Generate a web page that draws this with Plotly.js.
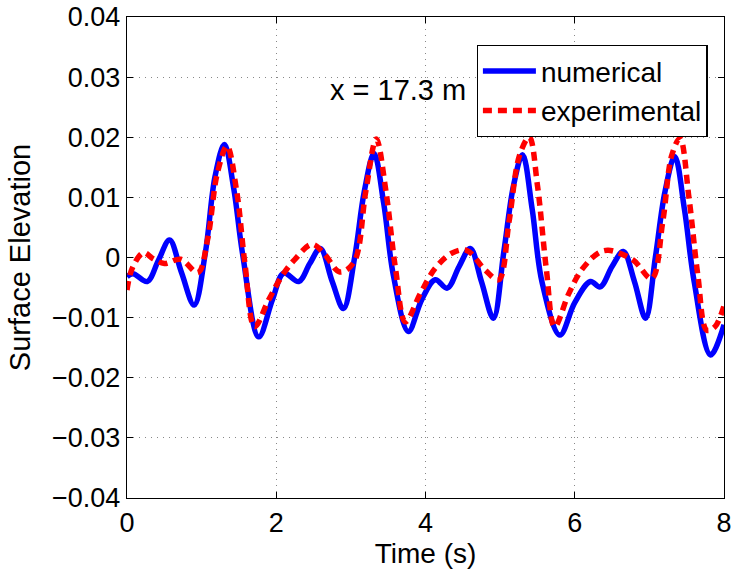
<!DOCTYPE html>
<html>
<head>
<meta charset="utf-8">
<script src="https://cdn.plot.ly/plotly-3.0.1.min.js"></script>
<style>html,body{margin:0;padding:0;background:#fff;}#chart{width:735px;height:574px;}</style>
</head>
<body>
<div id="chart"></div>
<script>
// Numerical (blue) series
const numT = [0.00,0.08,0.27,0.42,0.57,0.73,0.90,1.05,1.18,1.305,1.43,1.55,1.765,1.95,2.10,2.30,2.45,2.59,2.75,2.90,3.05,3.18,3.31,3.44,3.57,3.77,3.95,4.13,4.29,4.45,4.60,4.75,4.91,5.05,5.18,5.30,5.43,5.56,5.80,6.00,6.21,6.34,6.50,6.65,6.80,6.95,7.08,7.21,7.34,7.47,7.60,7.82,8.00];
const numV = [-0.0032,-0.0027,-0.0040,-0.0005,0.0029,-0.0025,-0.0079,0.0008,0.0135,0.0188,0.0115,0.0005,-0.0132,-0.0070,-0.0026,-0.0040,-0.0010,0.0015,-0.0040,-0.0085,0.0000,0.0110,0.0173,0.0090,-0.0030,-0.0123,-0.0070,-0.0037,-0.0051,-0.0015,0.0015,-0.0040,-0.0101,0.0010,0.0120,0.0171,0.0080,-0.0040,-0.0129,-0.0075,-0.0040,-0.0049,-0.0015,0.0010,-0.0040,-0.0101,0.0000,0.0110,0.0168,0.0080,-0.0040,-0.0162,-0.0112];
// Experimental (red) series
const expT = [0.00,0.07,0.22,0.35,0.50,0.72,0.95,1.08,1.21,1.34,1.47,1.58,1.71,1.90,2.08,2.25,2.48,2.65,2.85,3.04,3.20,3.34,3.47,3.60,3.73,3.93,4.13,4.35,4.55,4.80,4.98,5.12,5.26,5.39,5.50,5.62,5.73,5.92,6.09,6.31,6.45,6.78,7.03,7.18,7.30,7.41,7.53,7.65,7.77,7.88,8.00];
const expV = [-0.0054,-0.0018,0.0008,-0.0002,-0.0010,-0.0003,-0.0025,0.0030,0.0140,0.0185,0.0110,-0.0010,-0.0115,-0.0070,-0.0030,-0.0003,0.0022,0.0005,-0.0024,-0.0008,0.0110,0.0197,0.0110,-0.0020,-0.0107,-0.0060,-0.0018,0.0007,0.0012,-0.0021,-0.0037,0.0060,0.0170,0.0200,0.0120,-0.0020,-0.0115,-0.0060,-0.0021,0.0007,0.0012,-0.0004,-0.0035,0.0060,0.0170,0.0198,0.0100,-0.0030,-0.0121,-0.0115,-0.0080];
// Tick labels
const xTicks = [0,2,4,6,8];
const xTickText = ['0','2','4','6','8'];
const yTicks = [-0.04,-0.03,-0.02,-0.01,0,0.01,0.02,0.03,0.04];
const yTickText = ['\u22120.04','\u22120.03','\u22120.02','\u22120.01','0','0.01','0.02','0.03','0.04'];
const seriesNames = ['numerical','experimental'];
const annotationText = 'x = 17.3 m';

const FONT = 'Liberation Sans, Arial, Helvetica, sans-serif';

const traces = [
  {x: numT, y: numV, name: seriesNames[0], type: 'scatter', mode: 'lines',
   line: {color: '#0000FF', width: 5.5, shape: 'spline', smoothing: 1}},
  {x: expT, y: expV, name: seriesNames[1], type: 'scatter', mode: 'lines',
   line: {color: '#FF0000', width: 5.5, shape: 'spline', smoothing: 1, dash: '9px,6px'}}
];

const axisCommon = {
  showline: true, linecolor: '#000', linewidth: 1.3, mirror: 'ticks',
  ticks: 'inside', ticklen: 6, tickwidth: 1, tickcolor: '#000',
  showgrid: true, gridcolor: '#888', gridwidth: 1, griddash: '1px,5px',
  zeroline: false, tickfont: {family: FONT, size: 27, color: '#000'},
  automargin: false
};

const layout = {
  width: 735, height: 574,
  margin: {l: 127, r: 11, t: 17, b: 76},
  paper_bgcolor: '#fff', plot_bgcolor: '#fff',
  showlegend: true,
  font: {family: FONT, color: '#000'},
  xaxis: Object.assign({}, axisCommon, {
    range: [0, 8], tickvals: xTicks, ticktext: xTickText,
    title: {text: 'Time (s)', font: {family: FONT, size: 28, color: '#000'}, standoff: 0}
  }),
  yaxis: Object.assign({}, axisCommon, {
    range: [-0.04, 0.04], tickvals: yTicks, ticktext: yTickText,
    title: {text: 'Surface Elevation', font: {family: FONT, size: 29, color: '#000'}, standoff: 12}
  }),
  legend: {
    x: 0.5856, y: 0.9418, xanchor: 'left', yanchor: 'top',
    bgcolor: '#fff', bordercolor: '#000', borderwidth: 1.3,
    font: {family: FONT, size: 28, color: '#000'},
    itemwidth: 53, tracegroupgap: 0
  },
  annotations: [{
    x: 3.636, y: 0.0279, xref: 'x', yref: 'y', text: annotationText,
    showarrow: false, xanchor: 'center', yanchor: 'middle',
    font: {family: FONT, size: 29, color: '#000'}
  }]
};

Plotly.newPlot('chart', traces, layout, {displayModeBar: false, staticPlot: true});
</script>
</body>
</html>
